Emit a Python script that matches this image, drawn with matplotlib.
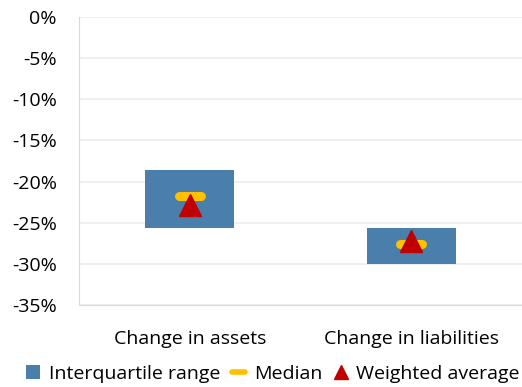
import matplotlib
matplotlib.use('Agg')
import matplotlib.pyplot as plt
from matplotlib.lines import Line2D
from matplotlib.patches import Patch
from matplotlib.ticker import FuncFormatter

CATEGORIES = ["Change in assets", "Change in liabilities"]
Q1 = [-25.6, -30.0]      # lower quartile (%)
Q3 = [-18.6, -25.6]      # upper quartile (%)
MEDIAN = [-21.8, -27.6]
WEIGHTED_AVG = [-22.8, -27.2]
Y_TICKS = [0, -5, -10, -15, -20, -25, -30, -35]

BLUE = "#4a7eab"
YELLOW = "#ffc000"
RED = "#c00000"

plt.rcParams['font.family'] = ['Open Sans', 'DejaVu Sans']
FS = 14

fig = plt.figure(figsize=(5.22, 3.87), dpi=100)
ax = fig.add_axes([79 / 522, 1 - 305 / 387, 443 / 522, 288 / 387])

x = list(range(len(CATEGORIES)))
heights = [hi - lo for lo, hi in zip(Q1, Q3)]
ax.bar(x, heights, bottom=Q1, width=0.4, color=BLUE, zorder=2)

half = 0.05
for xi, m in zip(x, MEDIAN):
    ax.plot([xi - half, xi + half], [m, m], color=YELLOW, lw=6.5,
            solid_capstyle='round', zorder=3)
ax.plot(x, WEIGHTED_AVG, linestyle='none', marker='^', markersize=16.5,
        color=RED, zorder=4)

ax.set_xlim(-0.5, len(CATEGORIES) - 0.5)
ax.set_ylim(-35, 0)
ax.set_yticks(Y_TICKS)
ax.yaxis.set_major_formatter(FuncFormatter(lambda v, p: f"{v:.0f}%"))
ax.set_xticks(x)
ax.set_xticklabels(CATEGORIES)
ax.tick_params(axis='both', length=0, labelsize=FS, colors='black')
ax.tick_params(axis='y', pad=16)
ax.tick_params(axis='x', pad=18)

ax.grid(axis='y', color='#ececec', lw=1.2, zorder=0)
for s in ['top', 'right']:
    ax.spines[s].set_visible(False)
ax.spines['left'].set_color('#d9d9d9')
ax.spines['bottom'].set_color('#d9d9d9')
ax.set_axisbelow(True)

handles = [
    Patch(facecolor=BLUE, label="Interquartile range"),
    Line2D([], [], color=YELLOW, lw=4, solid_capstyle='round', label="Median"),
    Line2D([], [], linestyle='none', marker='^', color=RED, markersize=10,
           label="Weighted average"),
]
fig.legend(handles=handles, loc='center', bbox_to_anchor=(273 / 522, 1 - 374 / 387),
           ncol=3, frameon=False, fontsize=FS, handlelength=0.7,
           handletextpad=0.45, columnspacing=0.6, borderaxespad=0)

fig.savefig("out.png", dpi=100)
